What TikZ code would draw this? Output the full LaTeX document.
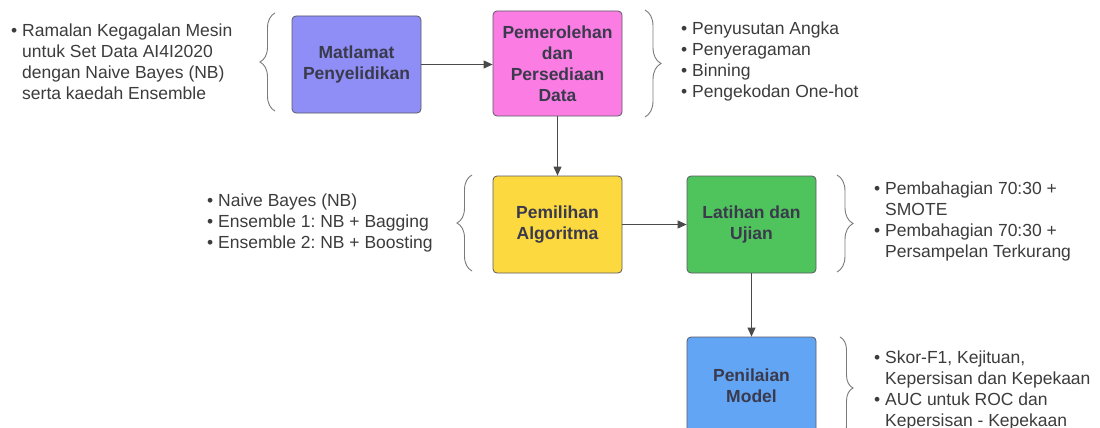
\documentclass[tikz,border=0pt]{standalone}
\usepackage{fontspec}
\setmainfont{Liberation Sans}
\usetikzlibrary{arrows.meta,decorations.pathreplacing}
\definecolor{cgoal}{HTML}{8E8EF6}
\definecolor{cdata}{HTML}{FB7DE3}
\definecolor{calgo}{HTML}{FCD93E}
\definecolor{ctrain}{HTML}{50C45C}
\definecolor{ceval}{HTML}{62A5F5}
\definecolor{boxline}{HTML}{5A5A66}
\definecolor{boxtext}{HTML}{3A3A4C}
\definecolor{txtgray}{HTML}{3C3C3C}
\definecolor{arrgray}{HTML}{4A4A4A}
\definecolor{brgray}{HTML}{7A7A7A}
\newcommand\mybul{\leavevmode\llap{•\hspace{5pt}}}
\frenchspacing
\begin{document}
\begin{tikzpicture}[x=1pt,y=-1pt,
  box/.style={draw=boxline, line width=0.8pt, rounded corners=4pt, minimum width=129pt, minimum height=97pt, inner sep=0pt, align=center, font=\fontsize{17.5}{21}\selectfont\bfseries\frenchspacing, text=boxtext},
  txt/.style={inner sep=0pt, align=left, anchor=west, font=\fontsize{17.5}{21}\selectfont\frenchspacing, text=txtgray},
  arr/.style={draw=arrgray, line width=0.9pt, -{Triangle[length=9pt,width=8pt]}},
  brc/.style={draw=brgray, line width=0.9pt, decorate, decoration={brace, amplitude=#1}}]
\clip (0,0) rectangle (1100,428);
\fill[white] (0,0) rectangle (1100,428);
% boxes
\node[box, fill=cgoal] (goal) at (356.5,64.5) {Matlamat\\Penyelidikan};
\node[box, fill=cdata, minimum height=105pt] (data) at (557.5,63.5) {Pemerolehan\\dan\\Persediaan\\Data};
\node[box, fill=calgo] (algo) at (557.5,224.5) {Pemilihan\\Algoritma};
\node[box, fill=ctrain] (train) at (751.5,224.5) {Latihan dan\\Ujian};
\node[box, fill=ceval] (eval) at (751.5,385.5) {Penilaian\\Model};
% arrows
\draw[arr] (goal.east) -- (goal.east -| data.west);
\draw[arr] (data) -- (algo);
\draw[arr] (algo) -- (train);
\draw[arr] (train) -- (eval);
% braces
\coordinate (b1t) at (275,13);  \coordinate (b1b) at (275,111);
\coordinate (b2t) at (645,10);  \coordinate (b2b) at (645,117);
\coordinate (b3t) at (472,175); \coordinate (b3b) at (472,271);
\coordinate (b4t) at (837,175); \coordinate (b4b) at (837,272);
\coordinate (b5t) at (840,337); \coordinate (b5b) at (840,439);
\draw[brc=15pt] (b1b) -- (b1t);
\draw[brc=16pt] (b2t) -- (b2b);
\draw[brc=15pt] (b3b) -- (b3t);
\draw[brc=16pt] (b4t) -- (b4b);
\draw[brc=13pt] (b5t) -- (b5b);
% texts
\node[txt] (t1) at (22,62) {\mybul Ramalan Kegagalan Mesin\\untuk Set Data AI4I2020\\dengan Naive Bayes (NB)\\serta kaedah Ensemble};
\node[txt] (t2) at (692,61.5) {\mybul Penyusutan Angka\\\mybul Penyeragaman\\\mybul Binning\\\mybul Pengekodan One-hot};
\node[txt] (t3) at (218,223) {\mybul Naive Bayes (NB)\\\mybul Ensemble 1: NB + Bagging\\\mybul Ensemble 2: NB + Boosting};
\node[txt] (t4) at (885,221) {\mybul Pembahagian 70:30 +\\SMOTE\\\mybul Pembahagian 70:30 +\\Persampelan Terkurang};
\node[txt] (t5) at (885,390) {\mybul Skor-F1, Kejituan,\\Kepersisan dan Kepekaan\\\mybul AUC untuk ROC dan\\Kepersisan - Kepekaan};
\end{tikzpicture}
\end{document}
